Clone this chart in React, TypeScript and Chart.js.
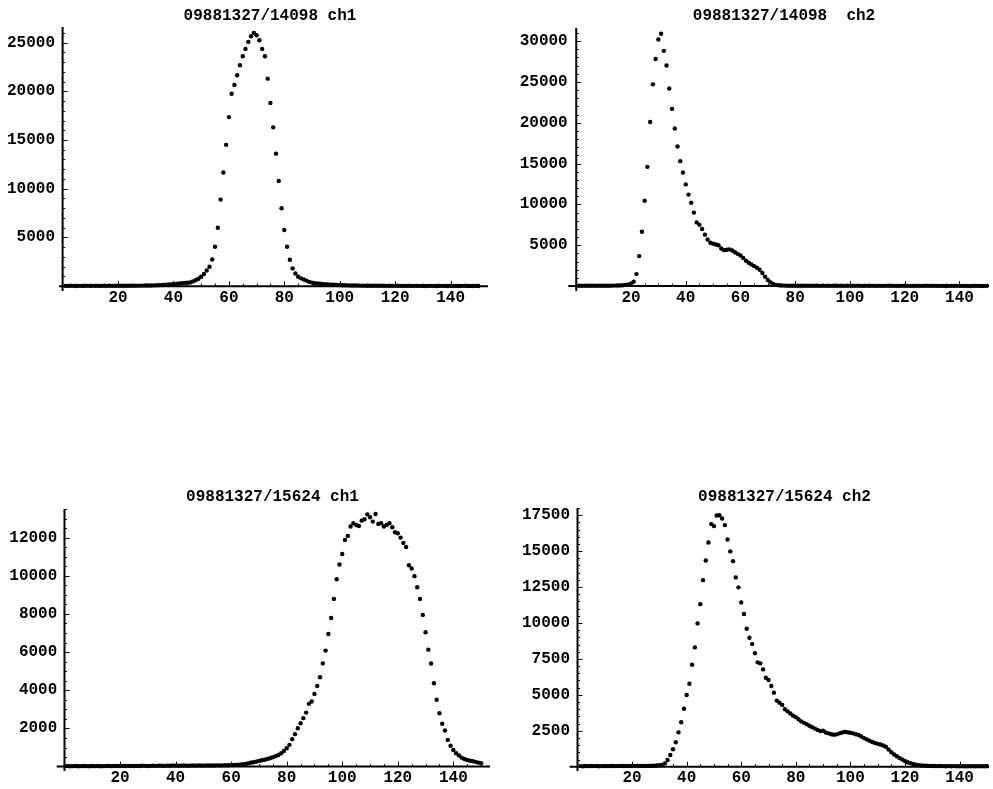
import React, { useEffect, useRef } from "react";
import { Chart, registerables } from "chart.js";

Chart.register(...registerables);

// ---------- data ----------
const firstChannel = 1;

const ch1_14098 = [
  30, 25, 35, 30, 20, 30, 25, 35, 30, 25,
  30, 35, 30, 25, 40, 30, 35, 30, 40, 35,
  35, 40, 40, 45, 45, 50, 50, 55, 55, 60,
  60, 70, 80, 90, 100, 115, 130, 160, 175, 200,
  230, 265, 290, 320, 350, 380, 470, 600, 760, 960,
  1250, 1600, 1990, 2740, 4050, 6000, 8880, 11660, 14500, 17350,
  19750, 20640, 21640, 22670, 23600, 24350, 25070, 25650, 26000, 25750,
  25240, 24350, 23600, 21300, 18800, 16300, 13600, 10800, 8000, 5760,
  4050, 2710, 1820, 1300, 960, 800, 690, 560, 440, 360,
  300, 270, 240, 210, 190, 170, 150, 135, 120, 105,
  95, 85, 80, 70, 65, 60, 55, 50, 50, 45,
  45, 40, 40, 35, 40, 35, 30, 35, 30, 30,
  35, 30, 25, 30, 30, 25, 30, 25, 30, 25,
  20, 25, 30, 25, 20, 25, 30, 25, 20, 25,
  20, 25, 20, 25, 30, 20, 25, 20, 25, 20,
];

const ch2_14098 = [
  40, 35, 45, 40, 35, 40, 45, 40, 35, 45,
  50, 45, 55, 60, 70, 80, 100, 150, 200, 300,
  530, 1470, 3670, 6650, 10450, 14600, 20100, 24700, 27800, 30200,
  30900, 28800, 27000, 24200, 21700, 19300, 17100, 15300, 13900, 12450,
  11200, 10200, 9000, 7800, 7500, 7000, 6300, 5700, 5300, 5200,
  5100, 5000, 4600, 4400, 4450, 4500, 4350, 4150, 3950, 3750,
  3450, 3100, 2850, 2650, 2450, 2250, 2000, 1600, 1150, 750,
  450, 250, 150, 100, 80, 60, 50, 50, 45, 40,
  40, 35, 40, 35, 30, 35, 40, 35, 30, 35,
  30, 35, 30, 35, 40, 30, 35, 30, 35, 30,
  35, 30, 35, 30, 25, 30, 35, 30, 25, 30,
  30, 25, 30, 35, 30, 25, 30, 25, 30, 35,
  30, 25, 30, 25, 30, 25, 30, 35, 30, 25,
  30, 25, 30, 25, 20, 25, 30, 25, 30, 25,
  25, 30, 25, 20, 25, 30, 25, 20, 25, 30,
];

const ch1_15624 = [
  30, 20, 25, 30, 20, 25, 30, 25, 20, 30,
  25, 30, 20, 25, 30, 35, 25, 30, 35, 30,
  35, 30, 40, 35, 30, 40, 35, 45, 40, 35,
  40, 45, 40, 50, 45, 40, 50, 45, 55, 50,
  45, 50, 55, 50, 45, 55, 50, 60, 55, 50,
  55, 60, 55, 60, 65, 60, 65, 70, 75, 80,
  85, 90, 100, 120, 140, 160, 200, 230, 260, 300,
  330, 360, 400, 440, 490, 540, 610, 700, 820, 960,
  1140, 1440, 1700, 2010, 2270, 2540, 2830, 3290, 3410, 3810,
  4230, 4680, 5410, 6080, 6950, 7790, 8790, 9820, 10590, 11140,
  11880, 12090, 12580, 12750, 12660, 12610, 12890, 12960, 13220, 13070,
  12840, 13240, 12720, 12750, 12580, 12660, 12750, 12540, 12280, 12230,
  12000, 11720, 11510, 10550, 10380, 9980, 9400, 8790, 7950, 7040,
  6130, 5400, 4370, 3500, 2800, 2250, 1890, 1400, 1090, 870,
  700, 580, 470, 400, 350, 310, 280, 250, 210, 180,
];

const ch2_15624 = [
  40, 35, 45, 40, 50, 40, 45, 35, 40, 45,
  40, 45, 50, 40, 45, 50, 45, 40, 50, 45,
  50, 45, 55, 50, 60, 55, 65, 70, 80, 100,
  120, 230, 470, 810, 1210, 1700, 2390, 3090, 4030, 4990,
  5770, 7090, 8300, 9970, 11310, 12980, 14350, 15600, 16880, 16740,
  17480, 17500, 17270, 16810, 15810, 14980, 14300, 13170, 12480, 11430,
  10620, 9600, 8970, 8530, 7890, 7260, 7190, 6770, 6190, 6030,
  5610, 5150, 4600, 4450, 4300, 4000, 3850, 3700, 3550, 3450,
  3300, 3150, 3050, 2950, 2850, 2750, 2650, 2560, 2480, 2500,
  2380, 2320, 2260, 2220, 2250, 2320, 2380, 2420, 2400, 2360,
  2320, 2260, 2200, 2100, 1990, 1900, 1800, 1720, 1650, 1590,
  1540, 1470, 1390, 1200, 1000, 850, 730, 600, 500, 400,
  310, 250, 190, 140, 110, 90, 75, 65, 55, 50,
  45, 40, 45, 40, 35, 40, 35, 40, 35, 30,
  35, 30, 35, 30, 35, 30, 35, 30, 35, 30,
];

const xTickValues = [20, 40, 60, 80, 100, 120, 140];
const yTicks_ch1_14098 = [5000, 10000, 15000, 20000, 25000];
const yTicks_ch2_14098 = [5000, 10000, 15000, 20000, 25000, 30000];
const yTicks_ch1_15624 = [2000, 4000, 6000, 8000, 10000, 12000];
const yTicks_ch2_15624 = [2500, 5000, 7500, 10000, 12500, 15000, 17500];

const titles = [
  "09881327/14098 ch1",
  "09881327/14098  ch2",
  "09881327/15624 ch1",
  "09881327/15624 ch2",
];

// ---------- layout ----------
type PanelCfg = {
  title: string;
  values: number[];
  yTicks: number[];
  yMinor: number;
  xMinor: number;
  box: { left: number; top: number; w: number; h: number };
  area: { left: number; top: number; right: number; bottom: number };
  xMin: number; xMax: number; yMin: number; yMax: number;
  yPad: number;
  titleCenter: [number, number];
};

const panels: PanelCfg[] = [
  {
    title: titles[0], values: ch1_14098, yTicks: yTicks_ch1_14098, yMinor: 1000, xMinor: 5,
    box: { left: 0, top: 0, w: 496, h: 310 },
    area: { left: 59, top: 27, right: 488, bottom: 291 },
    xMin: -1.3, xMax: 153.5, yMin: -500, yMax: 26600, yPad: 4,
    titleCenter: [270, 15.3],
  },
  {
    title: titles[1], values: ch2_14098, yTicks: yTicks_ch2_14098, yMinor: 1000, xMinor: 5,
    box: { left: 496, top: 0, w: 497, h: 310 },
    area: { left: 72.3, top: 28, right: 497, bottom: 291 },
    xMin: -2.9, xMax: 150.8, yMin: -600, yMax: 31600, yPad: 0.6,
    titleCenter: [784, 15],
  },
  {
    title: titles[2], values: ch1_15624, yTicks: yTicks_ch1_15624, yMinor: 500, xMinor: 5,
    box: { left: 0, top: 490, w: 496, h: 299 },
    area: { left: 56.7, top: 19, right: 490, bottom: 281 },
    xMin: -2.8, xMax: 153.2, yMin: -230, yMax: 13500, yPad: -0.6,
    titleCenter: [272.5, 496],
  },
  {
    title: titles[3], values: ch2_15624, yTicks: yTicks_ch2_15624, yMinor: 500, xMinor: 5,
    box: { left: 496, top: 490, w: 497, h: 299 },
    area: { left: 73.6, top: 18, right: 497, bottom: 281 },
    xMin: -2.9, xMax: 150.8, yMin: -300, yMax: 18000, yPad: -0.4,
    titleCenter: [784.5, 496],
  },
];

const FONT_FAMILY = "'Liberation Mono', 'Courier New', monospace";

function Panel({ cfg }: { cfg: PanelCfg }) {
  const ref = useRef<HTMLCanvasElement>(null);

  useEffect(() => {
    const canvas = ref.current;
    if (!canvas) return;
    const points = cfg.values.map((v, i) => ({ x: firstChannel + i, y: v }));

    const axesPlugin = {
      id: "mmaAxes",
      beforeDatasetsDraw(chart: any) {
        const { ctx, chartArea, scales } = chart;
        const xs = scales.x;
        const ys = scales.y;
        const x0 = xs.getPixelForValue(0);
        const y0 = ys.getPixelForValue(0);
        ctx.save();
        ctx.strokeStyle = "#000";
        ctx.lineWidth = 2;
        ctx.beginPath();
        ctx.moveTo(chartArea.left, y0);
        ctx.lineTo(chartArea.right, y0);
        ctx.moveTo(x0, chartArea.top);
        ctx.lineTo(x0, chartArea.bottom);
        ctx.stroke();
        ctx.lineWidth = 1;
        ctx.beginPath();
        for (let k = 1; k * cfg.xMinor <= xs.max; k++) {
          const v = k * cfg.xMinor;
          const px = Math.round(xs.getPixelForValue(v)) + 0.5;
          const major = xTickValues.includes(v);
          ctx.moveTo(px, y0);
          ctx.lineTo(px, y0 - (major ? 5 : 2.5));
        }
        for (let k = 1; k * cfg.yMinor <= ys.max; k++) {
          const v = k * cfg.yMinor;
          const py = Math.round(ys.getPixelForValue(v)) + 0.5;
          const major = cfg.yTicks.includes(v);
          ctx.moveTo(x0, py);
          ctx.lineTo(x0 + (major ? 5 : 2.5), py);
        }
        ctx.stroke();
        ctx.restore();
      },
    };

    const tickFont = { family: FONT_FAMILY, size: 16, weight: "bold" as const, lineHeight: 1 };

    const chart = new Chart(canvas, {
      type: "scatter",
      data: {
        datasets: [
          {
            data: points,
            pointRadius: 2.2,
            pointBackgroundColor: "#000",
            pointBorderColor: "#000",
            pointBorderWidth: 0,
            showLine: false,
            clip: false as any,
          },
        ],
      },
      options: {
        responsive: false,
        animation: false,
        events: [],
        layout: {
          padding: { left: 0, top: cfg.area.top, right: cfg.box.w - cfg.area.right, bottom: 0 },
        },
        plugins: {
          legend: { display: false },
          tooltip: { enabled: false },
          title: { display: false },
        },
        scales: {
          x: {
            type: "linear",
            position: "bottom",
            min: cfg.xMin,
            max: cfg.xMax,
            grid: { display: false, drawTicks: false },
            border: { display: false },
            afterFit: (s: any) => { s.height = cfg.box.h - cfg.area.bottom; },
            afterBuildTicks: (s: any) => { s.ticks = xTickValues.map((v) => ({ value: v })); },
            ticks: {
              autoSkip: false,
              maxRotation: 0,
              minRotation: 0,
              padding: -1.5,
              color: "#000",
              font: tickFont,
              callback: (v: any) => String(v),
            },
          },
          y: {
            type: "linear",
            position: "left",
            min: cfg.yMin,
            max: cfg.yMax,
            grid: { display: false, drawTicks: false },
            border: { display: false },
            afterFit: (s: any) => { s.width = cfg.area.left; },
            afterBuildTicks: (s: any) => { s.ticks = cfg.yTicks.map((v) => ({ value: v })); },
            ticks: {
              autoSkip: false,
              padding: cfg.yPad,
              color: "#000",
              font: tickFont,
              callback: (v: any) => String(v),
            },
          },
        },
      },
      plugins: [axesPlugin],
    });
    return () => chart.destroy();
  }, [cfg]);

  return (
    <canvas
      ref={ref}
      width={cfg.box.w}
      height={cfg.box.h}
      style={{
        position: "absolute",
        left: cfg.box.left,
        top: cfg.box.top,
        width: cfg.box.w,
        height: cfg.box.h,
      }}
    />
  );
}

export default function App() {
  return (
    <div style={{ position: "absolute", left: 0, top: 0, width: 993, height: 789, background: "#fff", overflow: "hidden" }}>
      {panels.map((p, i) => (
        <Panel key={i} cfg={p} />
      ))}
      {panels.map((p, i) => (
        <div
          key={"t" + i}
          style={{
            position: "absolute",
            left: p.titleCenter[0] - 150,
            top: p.titleCenter[1] - 7.4,
            width: 300,
            textAlign: "center",
            fontFamily: FONT_FAMILY,
            fontWeight: "bold",
            fontSize: 16,
            lineHeight: "16px",
            whiteSpace: "pre",
            color: "#000",
          }}
        >
          {p.title}
        </div>
      ))}
    </div>
  );
}
